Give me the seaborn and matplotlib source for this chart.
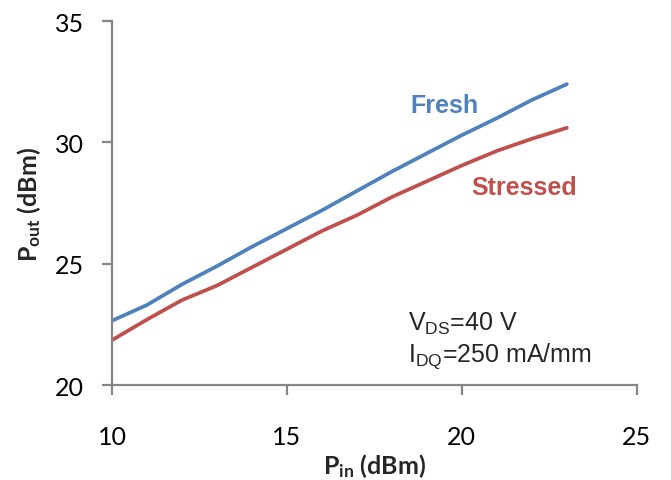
import matplotlib.pyplot as plt
import pandas as pd
import seaborn as sns

# --- donnees ---
p_in = [10, 11, 12, 13, 14, 15, 16, 17, 18, 19, 20, 21, 22, 23]
p_out_fresh = [22.65, 23.3, 24.15, 24.9, 25.7, 26.45, 27.2, 28.0, 28.8, 29.55, 30.3, 31.0, 31.75, 32.4]
p_out_stressed = [21.85, 22.7, 23.5, 24.1, 24.85, 25.6, 26.35, 27.0, 27.75, 28.4, 29.05, 29.65, 30.15, 30.6]

x_ticks = [10, 15, 20, 25]
y_ticks = [20, 25, 30, 35]

BLUE = "#4F81BD"
RED = "#C0504D"
GREY = "#868686"

sns.set_style("white")
plt.rcParams["font.family"] = ["Lato", "DejaVu Sans"]
plt.rcParams["mathtext.fontset"] = "custom"
plt.rcParams["mathtext.rm"] = "Lato"
plt.rcParams["mathtext.bf"] = "Lato:bold"
plt.rcParams["mathtext.sf"] = "Liberation Sans"

df = pd.DataFrame({"pin": p_in, "fresh": p_out_fresh, "stressed": p_out_stressed})

fig = plt.figure(figsize=(6.71, 4.81), dpi=100)
ax = fig.add_axes([0.167, 0.1975, 0.782, 0.7565])

sns.lineplot(data=df, x="pin", y="fresh", color=BLUE, lw=2.7, ax=ax)
sns.lineplot(data=df, x="pin", y="stressed", color=RED, lw=2.7, ax=ax)

ax.set_xlim(10, 25)
ax.set_ylim(20, 35)
ax.set_xticks(x_ticks)
ax.set_yticks(y_ticks)

for side in ["top", "right"]:
    ax.spines[side].set_visible(False)
for side in ["left", "bottom"]:
    ax.spines[side].set_color(GREY)
    ax.spines[side].set_linewidth(1.6)
ax.tick_params(axis="both", bottom=True, left=True, direction="out", length=7,
               width=1.6, color=GREY, labelsize=18, labelcolor="black")
ax.tick_params(axis="x", pad=22)
ax.tick_params(axis="y", pad=13)

ax.set_xlabel(r"$\mathbf{P_{in}}$ (dBm)", fontsize=18, fontweight="bold", labelpad=2)
ax.set_ylabel(r"$\mathbf{P_{out}}$ (dBm)", fontsize=18, fontweight="bold", labelpad=9)

# annotations
ax.text(19.5, 31.24, "Fresh", color=BLUE, fontsize=18, fontweight="bold",
        family="Liberation Sans", ha="center", va="baseline")
ax.text(21.79, 27.87, "Stressed", color=RED, fontsize=18, fontweight="bold",
        family="Liberation Sans", ha="center", va="baseline")
ax.text(18.45, 22.28, r"V$_\mathsf{DS}$=40 V", fontsize=18, family="Liberation Sans",
        ha="left", va="baseline")
ax.text(18.45, 21.0, r"I$_\mathsf{DQ}$=250 mA/mm", fontsize=18, family="Liberation Sans",
        ha="left", va="baseline")

fig.savefig("out.png", dpi=100)
